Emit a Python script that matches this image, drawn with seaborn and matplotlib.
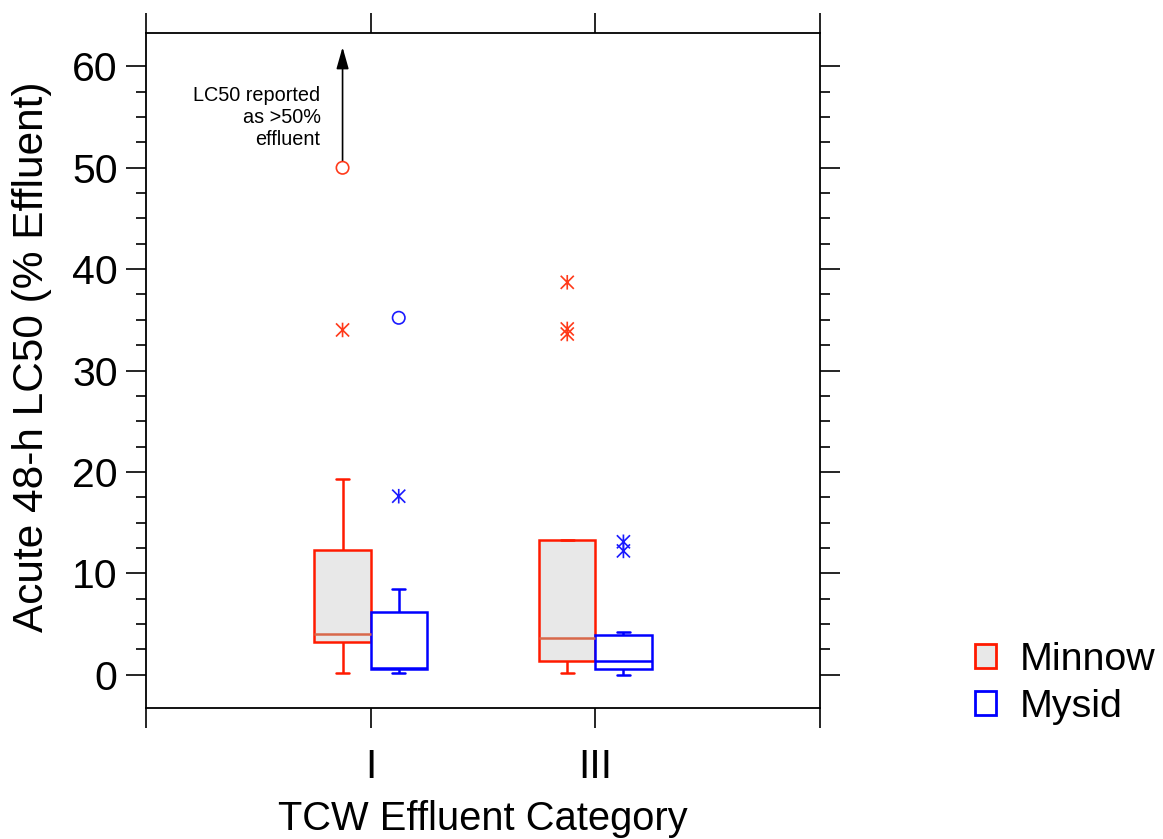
import numpy as np
import pandas as pd
import matplotlib
matplotlib.use("Agg")
import matplotlib.pyplot as plt
import seaborn as sns
from matplotlib.patches import Patch
from matplotlib.path import Path
from matplotlib.ticker import FixedLocator

# ---------------- data ----------------
categories = ["I", "III"]
species = ["Minnow", "Mysid"]

# box summaries: [lower whisker, Q1, median, Q3, upper whisker]
minnow_I_box = [0.2, 3.2, 4.0, 12.25, 19.25]
minnow_III_box = [0.2, 1.38, 3.6, 13.3, 13.3]
mysid_I_box = [0.2, 0.6, 0.65, 6.22, 8.4]
mysid_III_box = [0.0, 0.6, 1.38, 3.95, 4.25]

# outliers: "near" (asterisk) and "far" (open circle)
minnow_I_near = [34.0]
minnow_I_far = [50.0]
minnow_III_near = [38.7, 34.1, 33.6]
mysid_I_near = [17.6]
mysid_I_far = [35.2]
mysid_III_near = [13.1, 12.2]

annotation_text = "LC50 reported\nas >50%\neffluent"
arrow_top_value = 61.9

# ---------------- styling ----------------
sns.set_style("ticks")
plt.rcParams["font.family"] = ["Liberation Sans", "DejaVu Sans"]
for key in ["text.color", "axes.labelcolor", "xtick.color", "ytick.color",
            "xtick.labelcolor", "ytick.labelcolor", "axes.edgecolor"]:
    plt.rcParams[key] = "black"

edge_colors = {"Minnow": "#ff1a00", "Mysid": "#0000ff"}
face_colors = {"Minnow": "#e8e8e8", "Mysid": "#ffffff"}
median_colors = {"Minnow": "#d8684a", "Mysid": "#0000ff"}
point_colors = {"Minnow": "#ff3a1a", "Mysid": "#1a1aff"}

BOX_WIDTH = 0.5

# asterisk marker: vertical bar plus an X
asterisk = Path(
    [(0, -1), (0, 1), (-0.9, -0.9), (0.9, 0.9), (-0.9, 0.9), (0.9, -0.9)],
    [Path.MOVETO, Path.LINETO, Path.MOVETO, Path.LINETO, Path.MOVETO, Path.LINETO],
)

rows = []
for cat, sp, box in [("I", "Minnow", minnow_I_box), ("III", "Minnow", minnow_III_box),
                     ("I", "Mysid", mysid_I_box), ("III", "Mysid", mysid_III_box)]:
    for v in box:
        rows.append({"category": cat, "species": sp, "value": v})
df = pd.DataFrame(rows)

fig = plt.figure(figsize=(11.63, 8.39), dpi=100)
ax = fig.add_axes([0.1255, 0.1561, 0.5796, 0.8046])

for sp in species:
    sns.boxplot(
        data=df[df["species"] == sp], x="category", y="value", hue="species",
        order=categories, hue_order=species, width=BOX_WIDTH, gap=0, dodge=True,
        whis=(0, 100), showfliers=False, palette=face_colors, saturation=1,
        linecolor=edge_colors[sp], linewidth=1.8,
        medianprops=dict(color=median_colors[sp], linewidth=1.8),
        capwidths=0.06, legend=False, ax=ax,
    )

# outliers
def offset(sp):
    idx = species.index(sp)
    return (idx - 0.5) * BOX_WIDTH / 2

outlier_sets = [
    ("I", "Minnow", minnow_I_near, "near"), ("I", "Minnow", minnow_I_far, "far"),
    ("III", "Minnow", minnow_III_near, "near"),
    ("I", "Mysid", mysid_I_near, "near"), ("I", "Mysid", mysid_I_far, "far"),
    ("III", "Mysid", mysid_III_near, "near"),
]
for cat, sp, vals, kind in outlier_sets:
    xs = [categories.index(cat) + offset(sp)] * len(vals)
    c = point_colors[sp]
    if kind == "near":
        sns.scatterplot(x=xs, y=vals, marker=asterisk, s=110, facecolor="none",
                        edgecolor=c, linewidth=1.2, ax=ax, zorder=5)
    else:
        sns.scatterplot(x=xs, y=vals, marker="o", s=80, facecolor="none",
                        edgecolor=c, linewidth=1.2, ax=ax, zorder=5)

# annotation arrow and text
x_arrow = categories.index("I") + offset("Minnow")
ax.annotate("", xy=(x_arrow, arrow_top_value), xytext=(x_arrow, minnow_I_far[0] + 0.7),
            arrowprops=dict(arrowstyle="-|>,head_length=0.6,head_width=0.17",
                            color="black", lw=1.2, mutation_scale=22,
                            shrinkA=0, shrinkB=0))
ax.text(x_arrow - 0.098, 55.0, annotation_text, ha="right", va="center",
        multialignment="right", fontsize=14.3, linespacing=1.2)

# axes
ax.set_xlim(-1, 2)
ax.set_ylim(-3.3, 63.3)
ax.set_xticks([-1, 0, 1, 2])
ax.set_xticklabels(["", "I", "III", ""])
ax.set_yticks([0, 10, 20, 30, 40, 50, 60])
ax.yaxis.set_minor_locator(FixedLocator(np.arange(0, 60.1, 2.5)))
ax.tick_params(axis="x", which="major", direction="out", length=14.4, width=1.2,
               top=True, bottom=True, labelsize=29.5, pad=14.5, colors="black")
ax.tick_params(axis="y", which="major", direction="out", length=14.4, width=1.2,
               left=True, right=True, labelsize=29.5, pad=6, colors="black")
ax.tick_params(axis="y", which="minor", direction="out", length=7.2, width=1.2,
               left=True, right=True)
for s in ax.spines.values():
    s.set_visible(True)
    s.set_linewidth(1.3)
    s.set_color("black")

ax.set_xlabel("TCW Effluent Category", fontsize=28.7, labelpad=10)
ax.set_ylabel("Acute 48-h LC50 (% Effluent)", fontsize=30.5, labelpad=14)
ax.yaxis.label.set_y(0.52)

handles = [Patch(facecolor=face_colors["Minnow"], edgecolor=edge_colors["Minnow"], linewidth=2),
           Patch(facecolor=face_colors["Mysid"], edgecolor=edge_colors["Mysid"], linewidth=2)]
fig.legend(handles=handles, labels=species, loc="center left",
           bbox_to_anchor=(0.838, 0.185), frameon=False, fontsize=28.4,
           handlelength=0.55, handleheight=0.55, handletextpad=0.6,
           labelspacing=0.28, borderaxespad=0, borderpad=0)

fig.savefig("out.png", dpi=100, facecolor="white")
